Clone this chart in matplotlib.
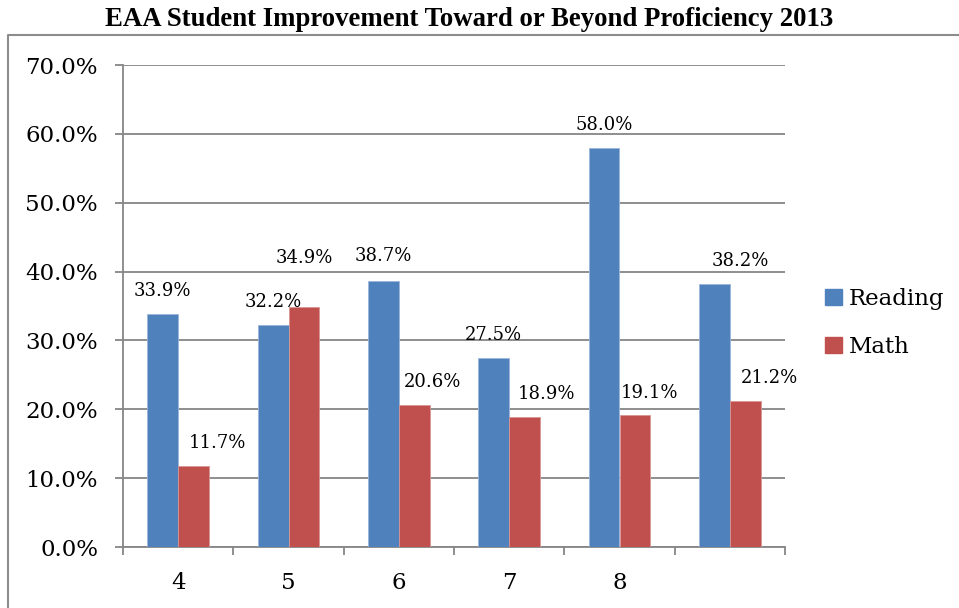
import numpy as np
import matplotlib.pyplot as plt
from matplotlib.lines import Line2D
from matplotlib.patches import Patch

# data
grades = ['4', '5', '6', '7', '8', '']
reading = [33.9, 32.2, 38.7, 27.5, 58.0, 38.2]
math = [11.7, 34.9, 20.6, 18.9, 19.1, 21.2]

# label offsets (pixels) to mimic the original placement
read_off = [(0, 23), (0, 23), (0, 25), (0, 23), (0, 23), (26, 23)]
math_off = [(24, 23), (0, 49), (18, 23), (22, 23), (15, 22), (24, 23)]

blue = '#4F81BD'
red = '#C0504D'
grid_c = '#868686'

plt.rcParams['font.family'] = ['DejaVu Serif']

fig = plt.figure(figsize=(9.59, 6.08), dpi=100)
ax = fig.add_axes([123/959, 61/608, 662/959, 482/608])

x = np.arange(len(grades))
w = 0.28
ax.bar(x - w/2, reading, w, color=blue, edgecolor='#9DB5D9', linewidth=0.6, label='Reading', zorder=3)
ax.bar(x + w/2, math, w, color=red, edgecolor='#D99694', linewidth=0.6, label='Math', zorder=3)

px = 72 / 100  # pixels -> points
for i in range(len(grades)):
    ax.annotate(f'{reading[i]:.1f}%', (x[i] - w/2, reading[i]),
                xytext=(read_off[i][0]*px, read_off[i][1]*px), textcoords='offset points',
                ha='center', va='center', fontsize=13)
    ax.annotate(f'{math[i]:.1f}%', (x[i] + w/2, math[i]),
                xytext=(math_off[i][0]*px, math_off[i][1]*px), textcoords='offset points',
                ha='center', va='center', fontsize=13)

ax.set_xlim(-0.5, len(grades) - 0.5)
ax.set_ylim(0, 70)
ax.set_yticks(np.arange(0, 71, 10))
ax.set_yticklabels([f'{v:.1f}%' for v in np.arange(0, 71, 10)], fontsize=16.5)
ax.yaxis.grid(True, color=grid_c, linewidth=1.3, zorder=0)
ax.tick_params(axis='y', length=6, width=1.3, color=grid_c, pad=12)

ax.set_xticks(np.arange(-0.5, len(grades)), labels=[])
ax.set_xticks(x, labels=grades, minor=True)
ax.tick_params(axis='x', which='major', length=6, width=1.3, color=grid_c, direction='out')
ax.tick_params(axis='x', which='minor', length=0, labelsize=16.5, pad=18)

for s in ['top', 'right']:
    ax.spines[s].set_visible(False)
for s in ['left', 'bottom']:
    ax.spines[s].set_color(grid_c)
    ax.spines[s].set_linewidth(1.3)
ax.set_axisbelow(True)

handles = [Patch(color=blue), Patch(color=red)]
ax.legend(handles, ['Reading', 'Math'], loc='center left', bbox_to_anchor=(1.03, 0.465),
          frameon=False, fontsize=16.5, handlelength=0.7, handleheight=0.7,
          handletextpad=0.3, labelspacing=1.15)

fig.text(469/959, 1 - 19/608, 'EAA Student Improvement Toward or Beyond Proficiency 2013',
         ha='center', va='center', fontsize=19.3, fontweight='bold', family='Liberation Serif')

# outer frame (only left and top edges visible in the crop)
fig.add_artist(Line2D([8/959, 8/959, 1.0], [0, 1 - 35/608, 1 - 35/608],
                      transform=fig.transFigure, color='#8C8C8C', linewidth=1.5))

fig.savefig('out.png', dpi=100)
